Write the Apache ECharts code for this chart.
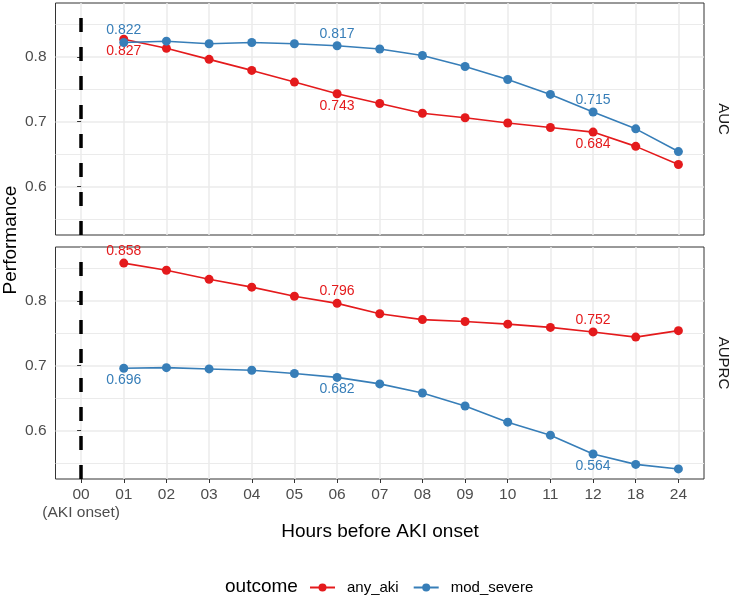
<!DOCTYPE html>
<html>
<head>
<meta charset="utf-8">
<script src="https://cdn.jsdelivr.net/npm/echarts@6/dist/echarts.min.js"></script>
<style>html,body{margin:0;padding:0;background:#fff;}#chart{width:732px;height:599px;}</style>
</head>
<body>
<div id="chart"></div>
<script>
// Categories (hours before AKI onset)
const hours = ['00','01','02','03','04','05','06','07','08','09','10','11','12','18','24'];
// Series values for hours 01 .. 24
const seriesHours = ['01','02','03','04','05','06','07','08','09','10','11','12','18','24'];
const aucAnyAki      = [0.827, 0.813, 0.796, 0.779, 0.761, 0.743, 0.728, 0.713, 0.706, 0.698, 0.691, 0.684, 0.662, 0.634];
const aucModSevere   = [0.822, 0.824, 0.820, 0.822, 0.820, 0.817, 0.812, 0.802, 0.785, 0.765, 0.742, 0.715, 0.689, 0.654];
const auprcAnyAki    = [0.858, 0.847, 0.833, 0.821, 0.807, 0.796, 0.780, 0.771, 0.768, 0.764, 0.759, 0.752, 0.744, 0.754];
const auprcModSevere = [0.696, 0.697, 0.695, 0.693, 0.688, 0.682, 0.672, 0.658, 0.638, 0.613, 0.593, 0.564, 0.548, 0.541];
const labelledHours = ['01','06','12'];
const yTicks = [0.6, 0.7, 0.8];
const yMinorTicks = [0.55, 0.65, 0.75, 0.85];
const onsetHour = '00';
const onsetNote = '(AKI onset)';
const panels = ['AUC', 'AUPRC'];
const outcomes = ['any_aki', 'mod_severe'];

const FONT = 'Liberation Sans, Arial, Helvetica, sans-serif';
const RED = '#E41A1C', BLUE = '#377EB8';
const GRIDC = '#EBEBEB';
const Y_MIN = 0.5255, Y_MAX = 0.8828;
const xIdx = hours.map((h, i) => i);

function buildData(values, color, offY) {
  return values.map((v, i) => {
    const h = seriesHours[i];
    const item = { value: [hours.indexOf(h), v] };
    if (labelledHours.indexOf(h) >= 0) {
      item.label = {
        show: true, position: 'inside', offset: [0, offY],
        formatter: v.toFixed(3), color: color, fontSize: 14, fontFamily: FONT
      };
    }
    return item;
  });
}

const grids = [
  { left: 55.5, right: 28, top: 3, bottom: 364, show: true, borderColor: '#333333', borderWidth: 1, backgroundColor: 'transparent' },
  { left: 55.5, right: 28, top: 247, bottom: 120, show: true, borderColor: '#333333', borderWidth: 1, backgroundColor: 'transparent' }
];

const xAxes = [0, 1].map(g => ({
  type: 'value', gridIndex: g, min: -0.6, max: 14.6, position: 'bottom',
  axisLine: { show: false },
  axisTick: { show: g === 1, length: 4, lineStyle: { color: '#333333', width: 1 }, customValues: xIdx },
  axisLabel: {
    show: g === 1, customValues: xIdx, margin: 8,
    color: '#4D4D4D', fontSize: 15.5, fontFamily: FONT,
    formatter: v => hours[Math.round(v)]
  },
  splitLine: { show: true, lineStyle: { color: GRIDC, width: 1.5 } }
}));
// secondary bottom axis carrying the "(AKI onset)" note under "00"
xAxes.push({
  type: 'value', gridIndex: 1, min: -0.6, max: 14.6, position: 'bottom', offset: 0,
  axisLine: { show: false },
  axisTick: { show: false, customValues: [hours.indexOf(onsetHour)] },
  axisLabel: {
    customValues: [hours.indexOf(onsetHour)], margin: 26,
    color: '#4D4D4D', fontSize: 15.5, fontFamily: FONT,
    formatter: () => onsetNote
  },
  splitLine: { show: false }
});

const yAxes = [];
[0, 1].forEach(g => {
  yAxes.push({
    type: 'value', gridIndex: g, min: Y_MIN, max: Y_MAX, position: 'left',
    axisLine: { show: false },
    axisTick: { show: true, length: 4, lineStyle: { color: '#333333', width: 1 }, customValues: yTicks },
    axisLabel: { customValues: yTicks, margin: 9, color: '#4D4D4D', fontSize: 15.5, fontFamily: FONT, formatter: v => v.toFixed(1) },
    splitLine: { show: true, lineStyle: { color: GRIDC, width: 1.5 } }
  });
  yAxes.push({
    type: 'value', gridIndex: g, min: Y_MIN, max: Y_MAX, position: 'right',
    axisLine: { show: false },
    axisTick: { show: false, customValues: yMinorTicks },
    axisLabel: { show: false, customValues: yMinorTicks },
    splitLine: { show: true, lineStyle: { color: GRIDC, width: 1 } }
  });
});

const panelData = [
  { any: aucAnyAki, sev: aucModSevere, anyOff: 12, sevOff: -12 },
  { any: auprcAnyAki, sev: auprcModSevere, anyOff: -12, sevOff: 12 }
];

const series = [];
panelData.forEach((p, g) => {
  series.push({
    name: outcomes[0], type: 'line', xAxisIndex: g, yAxisIndex: g * 2,
    data: buildData(p.any, RED, p.anyOff),
    symbol: 'circle', symbolSize: 9, color: RED,
    lineStyle: { width: 1.6, color: RED }, itemStyle: { color: RED },
    z: 3,
    markLine: {
      silent: true, symbol: 'none', label: { show: false }, animation: false,
      lineStyle: { color: '#000000', width: 3.5, type: [14, 15] },
      data: [{ xAxis: hours.indexOf(onsetHour) }]
    }
  });
  series.push({
    name: outcomes[1], type: 'line', xAxisIndex: g, yAxisIndex: g * 2,
    data: buildData(p.sev, BLUE, p.sevOff),
    symbol: 'circle', symbolSize: 9, color: BLUE,
    lineStyle: { width: 1.6, color: BLUE }, itemStyle: { color: BLUE },
    z: 4
  });
});

const chart = echarts.init(document.getElementById('chart'), null, { renderer: 'canvas' });
chart.setOption({
  animation: false,
  backgroundColor: '#ffffff',
  grid: grids,
  xAxis: xAxes,
  yAxis: yAxes,
  series: series,
  legend: {
    data: outcomes, left: 304, top: 575, itemWidth: 25, itemHeight: 10, itemGap: 14,
    textStyle: { fontSize: 15, fontFamily: FONT, color: '#000000', padding: [0, 0, 0, 7] }
  },
  graphic: [
    { type: 'text', x: 380, y: 532, style: { text: 'Hours before AKI onset', align: 'center', verticalAlign: 'middle', fontSize: 19, fontFamily: FONT, fill: '#000000' } },
    { type: 'text', x: 11, y: 240, rotation: Math.PI / 2, style: { text: 'Performance', align: 'center', verticalAlign: 'middle', fontSize: 19, fontFamily: FONT, fill: '#000000' } },
    { type: 'text', x: 723, y: 119, rotation: -Math.PI / 2, style: { text: panels[0], align: 'center', verticalAlign: 'middle', fontSize: 15, fontFamily: FONT, fill: '#1A1A1A' } },
    { type: 'text', x: 723, y: 363, rotation: -Math.PI / 2, style: { text: panels[1], align: 'center', verticalAlign: 'middle', fontSize: 15, fontFamily: FONT, fill: '#1A1A1A' } },
    { type: 'text', x: 225, y: 587, style: { text: 'outcome', align: 'left', verticalAlign: 'middle', fontSize: 19, fontFamily: FONT, fill: '#000000' } }
  ]
});
</script>
</body>
</html>
